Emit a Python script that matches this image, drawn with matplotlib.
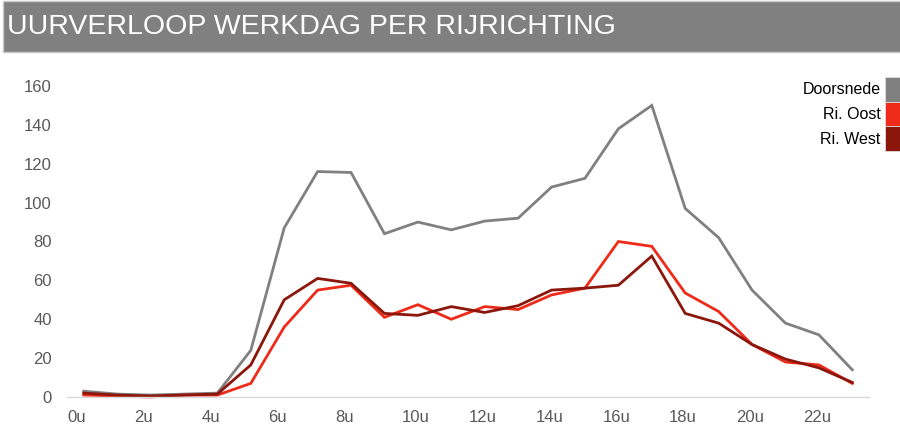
import matplotlib
matplotlib.use("Agg")
from matplotlib import pyplot as plt
from matplotlib.patches import Patch, Rectangle
from matplotlib.transforms import ScaledTranslation
import numpy as np

plt.rcParams['font.family'] = ['Liberation Sans', 'DejaVu Sans']

# uurwaarden werkdag (0u t/m 23u)
uren = list(range(24))
doorsnede = [3, 1.5, 1, 1.5, 2, 24, 87, 116, 115.5, 84, 90, 86, 90.5, 92, 108, 112.5, 138, 150, 97, 82, 55, 38, 32, 14]
ri_oost = [1, 0.5, 0, 1, 1, 7, 36, 55, 57.5, 41, 47.5, 40, 46.5, 45, 52.5, 56, 80, 77.5, 53.5, 44, 27, 18, 16.5, 7]
ri_west = [2, 1, 0.5, 1, 1.5, 16.5, 50, 61, 58.5, 43, 42, 46.5, 43.5, 47, 55, 56, 57.5, 72.5, 43, 38, 27, 19.5, 15, 7.5]

series = ["Doorsnede", "Ri. Oost", "Ri. West"]
kleuren = ["#808080", "#EE2A18", "#8B160C"]
tick_uren = uren[::2]
tick_labels = [f"{u}u" for u in tick_uren]

fig = plt.figure(figsize=(9, 4.25), dpi=100)

# titelbalk
fig.patches.append(Rectangle((3 / 900, 1 - 52 / 425), 1.0, 51 / 425, transform=fig.transFigure,
                             facecolor="#808080", edgecolor="#c8c8c8", linewidth=1.0))
fig.text(7 / 900, 1 - 27 / 425, "UURVERLOOP WERKDAG PER RIJRICHTING", color="white",
         fontsize=20.5, va="center", ha="left")

ax = fig.add_axes([67 / 900, 28 / 425, 802 / 900, 311 / 425])
for data, naam, kleur in zip([doorsnede, ri_oost, ri_west], series, kleuren):
    ax.plot(uren, data, color=kleur, linewidth=2.0, label=naam, clip_on=False,
            solid_joinstyle="miter")

ax.set_xlim(-0.5, 23.5)
ax.set_ylim(0, 160)
ax.set_yticks(np.arange(0, 161, 20))
ax.set_xticks(tick_uren)
ax.set_xticklabels(tick_labels)
ax.tick_params(axis="both", length=0, labelsize=12, labelcolor="#595959")
ax.tick_params(axis="y", pad=11)
ax.tick_params(axis="x", pad=9)

# labels zoals in Excel: links uitgelijnd, iets voor het punt
verschuif = ScaledTranslation(-16 / 100, 0, fig.dpi_scale_trans)
for lbl in ax.get_xticklabels():
    lbl.set_ha("left")
    lbl.set_transform(lbl.get_transform() + verschuif)

for s in ["top", "right", "left"]:
    ax.spines[s].set_visible(False)
ax.spines["bottom"].set_color("#d9d9d9")
ax.spines["bottom"].set_linewidth(1.0)

handles = [Patch(facecolor=k, edgecolor="#dddddd", linewidth=0.6) for k in kleuren]
leg = fig.legend(handles, series, loc="upper right", bbox_to_anchor=(906 / 900, 1 - 77 / 425),
                 frameon=False, markerfirst=False, fontsize=11.5, handlelength=1.3,
                 handleheight=2.0, labelspacing=0.0, handletextpad=0.3, borderpad=0,
                 borderaxespad=0)
for t in leg.get_texts():
    t.set_color("#000000")

fig.savefig("out.png", dpi=100)
